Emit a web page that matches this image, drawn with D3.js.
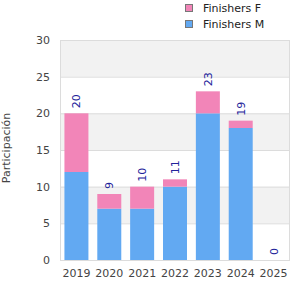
<!DOCTYPE html>
<html><head><meta charset="utf-8">
<script src="https://cdn.jsdelivr.net/npm/d3@7"></script>
<style>body{margin:0;background:#fff}svg{display:block;font-family:"DejaVu Sans",sans-serif}</style>
</head><body><svg id="c" width="300" height="300"></svg>
<script>
const years = ["2019","2020","2021","2022","2023","2024","2025"];
const finishersM = [12, 7, 7, 10, 20, 18, 0];
const finishersF = [8, 2, 3, 1, 3, 1, 0];
const yTicks = [0, 5, 10, 15, 20, 25, 30];
const seriesNames = ["Finishers F", "Finishers M"];
const colors = {"Finishers F": "#f285b8", "Finishers M": "#62a9f2"};
const yTitle = "Participación";

const svg = d3.select("#c");
const m = {l: 60, r: 10, t: 40, b: 40};
const W = 300, H = 300;
const x = d3.scaleBand().domain(years).range([m.l, W - m.r]).paddingInner(0.27).paddingOuter(0.135);
const y = d3.scaleLinear().domain([0, 30]).range([H - m.b, m.t]);

// bands
for (let i = 0; i < yTicks.length - 1; i++) {
  if (i % 2 === 1) {
    svg.append("rect").attr("x", m.l).attr("width", W - m.r - m.l)
      .attr("y", y(yTicks[i + 1])).attr("height", y(yTicks[i]) - y(yTicks[i + 1]))
      .attr("fill", "#f2f2f2");
  }
}
// gridlines
svg.append("g").selectAll("line").data(yTicks).join("line")
  .attr("x1", m.l).attr("x2", W - m.r)
  .attr("y1", d => y(d) + 0.5).attr("y2", d => y(d) + 0.5)
  .attr("stroke", "#dcdcdc");
// border
svg.append("line").attr("x1", m.l + 0.5).attr("x2", m.l + 0.5).attr("y1", m.t).attr("y2", H - m.b).attr("stroke", "#dcdcdc");
svg.append("line").attr("x1", W - m.r - 0.5).attr("x2", W - m.r - 0.5).attr("y1", m.t).attr("y2", H - m.b).attr("stroke", "#dcdcdc");

const data = years.map((yr, i) => ({year: yr, M: finishersM[i], F: finishersF[i]}));
const stack = d3.stack().keys(["M", "F"])(data);
const keyName = {M: "Finishers M", F: "Finishers F"};
svg.append("g").selectAll("g").data(stack).join("g")
  .attr("fill", s => colors[keyName[s.key]])
  .selectAll("rect").data(s => s).join("rect")
  .attr("x", d => x(d.data.year)).attr("width", x.bandwidth())
  .attr("y", d => y(d[1])).attr("height", d => y(d[0]) - y(d[1]));

// value labels
svg.append("g").selectAll("text").data(data).join("text")
  .attr("transform", d => `translate(${x(d.year) + x.bandwidth() / 2 + 4},${y(d.M + d.F) - 5}) rotate(-90)`)
  .attr("fill", "#22229a").attr("font-size", 11).attr("text-anchor", "start")
  .text(d => d.M + d.F);

// y axis labels
svg.append("g").selectAll("text").data(yTicks).join("text")
  .attr("x", 50).attr("y", d => y(d) + 4).attr("text-anchor", "end")
  .attr("font-size", 11).attr("fill", "#444").text(d => d);
// x axis labels
svg.append("g").selectAll("text").data(years).join("text")
  .attr("x", d => x(d) + x.bandwidth() / 2).attr("y", 277).attr("text-anchor", "middle")
  .attr("font-size", 11).attr("fill", "#444").text(d => d);
// y title
svg.append("text").attr("transform", `translate(10,${148}) rotate(-90)`)
  .attr("text-anchor", "middle").attr("font-size", 11).attr("fill", "#444").text(yTitle);

// legend
const lg = svg.append("g").selectAll("g").data(seriesNames).join("g")
  .attr("transform", (d, i) => `translate(185,${4 + i * 16})`);
lg.append("rect").attr("x", 0.5).attr("y", 0.5).attr("width", 7).attr("height", 7)
  .attr("fill", d => colors[d]).attr("stroke", "#777");
lg.append("text").attr("x", 18).attr("y", 8).attr("font-size", 11).attr("fill", "#222").text(d => d);
</script></body></html>
